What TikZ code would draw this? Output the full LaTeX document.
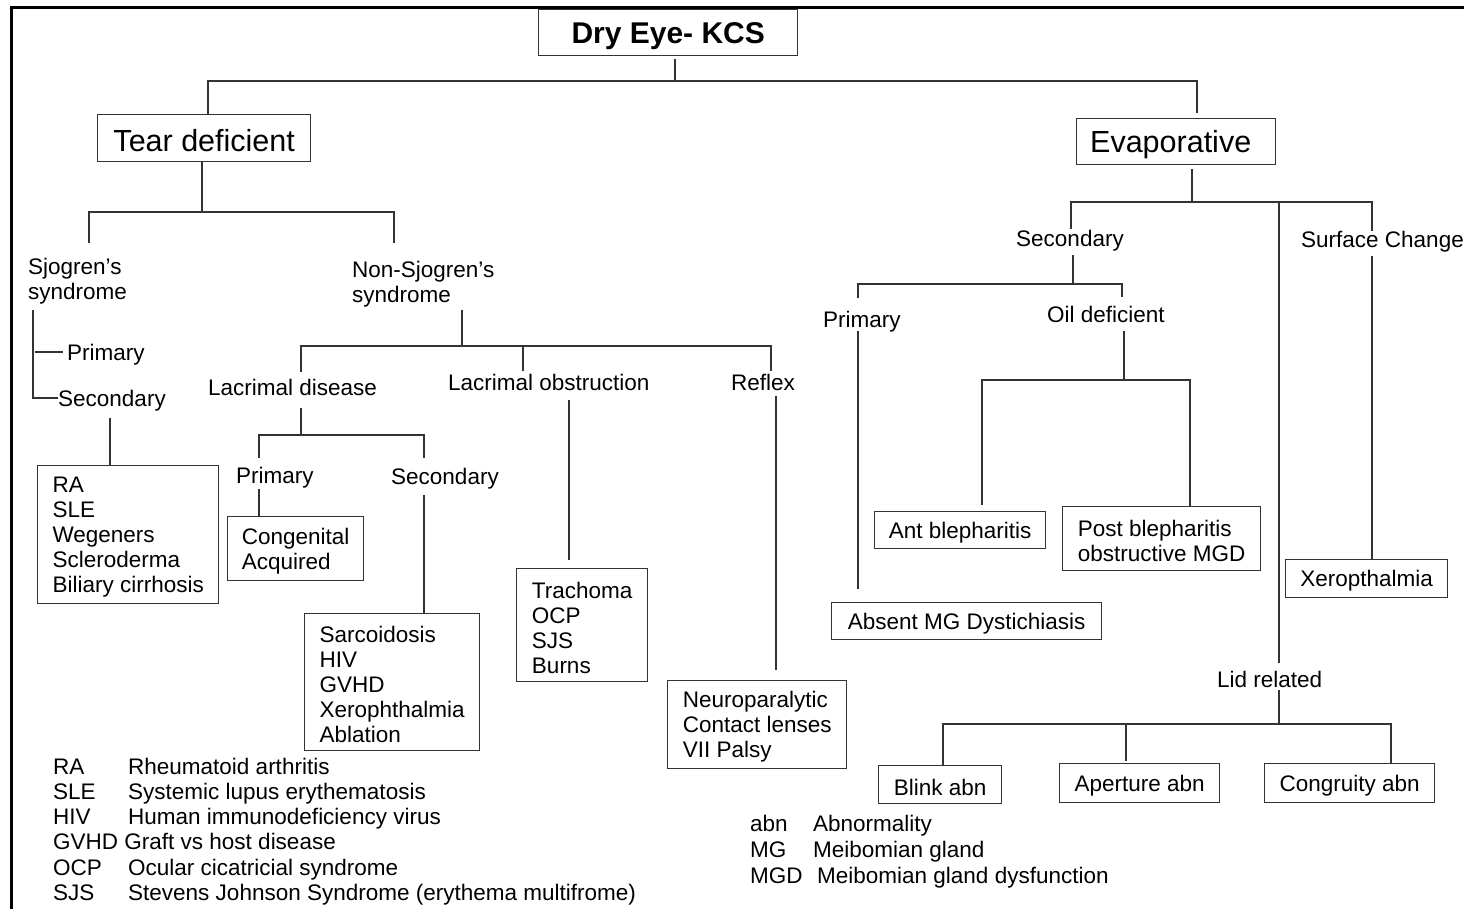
\documentclass[tikz,border=0pt]{standalone}
\usepackage{fontspec}
\setmainfont{Liberation Sans}
\newcommand{\bodyf}{\fontsize{22.5}{25}\selectfont}
\newcommand{\titlef}{\fontsize{30.5}{34}\selectfont}
\begin{document}
\begin{tikzpicture}[x=1pt,y=-1pt,
  ln/.style={line width=1.4pt, draw=black!80},
  box/.style={draw=black!80, line width=1.4pt, align=left, inner sep=0pt, font=\bodyf, anchor=north west},
  tbox/.style={draw=black!80, line width=1.4pt, inner sep=0pt, anchor=north west},
  lbl/.style={inner sep=0pt, font=\bodyf, anchor=base west},
  mlbl/.style={inner sep=0pt, font=\bodyf, anchor=west, align=left}]
\newcommand{\up}{\rule{0pt}{21pt}}
\newcommand{\upt}{\rule{0pt}{27pt}}
\useasboundingbox (0,0) rectangle (1464,909);
\fill[white] (0,0) rectangle (1464,909);
\draw[line width=3pt] (1464,8) -- (11.5,8) -- (11.5,909);

% title boxes
\node[tbox, minimum width=259pt, minimum height=46pt, font=\fontsize{30}{34}\selectfont\bfseries] (root) at (538,9) {\upt Dry Eye- KCS};
\node[tbox, minimum width=213pt, minimum height=47pt, font=\titlef] (tear) at (97,114) {\upt Tear deficient};
\node[tbox, minimum width=199pt, minimum height=46pt, font=\titlef] (evap) at (1076,118) {\upt Evaporative\hspace*{11pt}};

% left labels
\node[mlbl] (sjo) at (28,281) {Sjogren’s\\syndrome};
\node[mlbl] (nsjo) at (352,284) {Non-Sjogren’s\\syndrome};
\node[lbl] (prim1) at (67,360) {Primary};
\node[lbl] (sec1) at (58,406) {Secondary};
\node[lbl] (lacdis) at (208,395) {Lacrimal disease};
\node[lbl] (lacobs) at (448,390) {Lacrimal obstruction};
\node[lbl] (reflex) at (731,390) {Reflex};
\node[lbl] (prim2) at (236,483) {Primary};
\node[lbl] (sec2) at (391,484) {Secondary};

% right labels
\node[lbl] (esec) at (1016,247) {Secondary};
\node[lbl] (surf) at (1301,248) {Surface Change};
\node[lbl] (prim3) at (823,327) {Primary};
\node[lbl] (oil) at (1047,323) {Oil deficient};
\node[lbl] (lid) at (1217,687) {Lid related};

% boxes
\node[box, minimum width=181pt, minimum height=138pt] (ra) at (37,465) {\up RA\\SLE\\Wegeners\\Scleroderma\\Biliary cirrhosis};
\node[box, minimum width=136pt, minimum height=64pt] (cong) at (227,516) {\up Congenital\\Acquired};
\node[box, minimum width=175pt, minimum height=137pt] (sarc) at (304,613) {\up Sarcoidosis\\HIV\\GVHD\\Xerophthalmia\\Ablation};
\node[box, minimum width=131pt, minimum height=113pt] (trach) at (516,568) {\up Trachoma\\OCP\\SJS\\Burns};
\node[box, minimum width=179pt, minimum height=88pt] (neuro) at (667,680) {\up Neuroparalytic\\Contact lenses\\VII Palsy};
\node[box, minimum width=270pt, minimum height=37pt] (absent) at (831,602) {\up Absent MG Dystichiasis};
\node[box, minimum width=171pt, minimum height=37pt] (ant) at (874,511) {\up Ant blepharitis};
\node[box, minimum width=198pt, minimum height=64pt] (post) at (1062,506) {\up Post blepharitis\\obstructive MGD};
\node[box, minimum width=162pt, minimum height=38pt] (xero) at (1285,559) {\up Xeropthalmia};
\node[box, minimum width=123pt, minimum height=38pt] (blink) at (878,765) {\up Blink abn};
\node[box, minimum width=160pt, minimum height=39pt] (aper) at (1059,763) {\up Aperture abn};
\node[box, minimum width=170pt, minimum height=39pt] (congr) at (1264,763) {\up Congruity abn};

% legends
\node[anchor=north west, inner sep=0pt, font=\fontsize{22.5}{25.2}\selectfont] (leg1) at (53,756.4)
 {\begin{tabular}{@{}p{75pt}@{}l@{}}
 RA & Rheumatoid arthritis\\
 SLE & Systemic lupus erythematosis\\
 HIV & Human immunodeficiency virus\\
 \multicolumn{2}{@{}l@{}}{GVHD Graft vs host disease}\\
 OCP & Ocular cicatricial syndrome\\
 SJS & Stevens Johnson Syndrome (erythema multifrome)
 \end{tabular}};
\node[anchor=north west, inner sep=0pt, font=\fontsize{22.5}{26}\selectfont] (leg2) at (750,812.8)
 {\begin{tabular}{@{}p{63pt}@{}l@{}}
 abn & Abnormality\\
 MG & Meibomian gland\\
 MGD & \hspace{4pt}Meibomian gland dysfunction
 \end{tabular}};

% ---- connectors: root
\coordinate (r0) at (675,59); \coordinate (r1) at (675,81);
\coordinate (t0) at (208,81); \coordinate (e0) at (1197,81); \coordinate (e1) at (1197,113);
\draw[ln] (r0) -- (r1);
\draw[ln] (tear.north -| t0) -- (t0) -- (e0) -- (e1);

% tear deficient
\coordinate (td) at (202,212); \coordinate (s0) at (89,212); \coordinate (s1) at (89,243);
\coordinate (n0) at (394,212); \coordinate (n1) at (394,243);
\draw[ln] (tear.south -| td) -- (td);
\draw[ln] (s1) -- (s0) -- (n0) -- (n1);

% sjogren
\coordinate (sv0) at (33,310); \coordinate (sv1) at (33,398); \coordinate (sv2) at (58,398);
\coordinate (sp0) at (35,352); \coordinate (sp1) at (63,352);
\draw[ln] (sv0) -- (sv1) -- (sv2);
\draw[ln] (sp0) -- (sp1);
\coordinate (x0) at (110,418);
\draw[ln] (x0) -- (ra.north -| x0);

% non-sjogren
\coordinate (nv0) at (462,310); \coordinate (nv1) at (462,346);
\coordinate (l0) at (301,346); \coordinate (l1) at (301,372);
\coordinate (o0) at (523,346); \coordinate (o1) at (523,371);
\coordinate (f0) at (771,346); \coordinate (f1) at (771,371);
\draw[ln] (nv0) -- (nv1);
\draw[ln] (l1) -- (l0) -- (f0) -- (f1);
\draw[ln] (o0) -- (o1);

% lacrimal disease
\coordinate (ld0) at (301,408); \coordinate (ld1) at (301,435);
\coordinate (p0) at (259,435); \coordinate (p1) at (259,458);
\coordinate (q0) at (424,435); \coordinate (q1) at (424,458);
\draw[ln] (ld0) -- (ld1);
\draw[ln] (p1) -- (p0) -- (q0) -- (q1);
\coordinate (p2) at (259,489); \draw[ln] (p2) -- (cong.north -| p2);
\coordinate (q2) at (424,495); \draw[ln] (q2) -- (sarc.north -| q2);
\coordinate (ob0) at (569,400); \coordinate (ob1) at (569,560); \draw[ln] (ob0) -- (ob1);
\coordinate (rf0) at (776,396); \coordinate (rf1) at (776,670); \draw[ln] (rf0) -- (rf1);

% evaporative
\coordinate (ev0) at (1192,169); \coordinate (ev1) at (1192,202);
\coordinate (es0) at (1071,202); \coordinate (es1) at (1071,229);
\coordinate (lr0) at (1279,202); \coordinate (lr1) at (1279,663);
\coordinate (sc0) at (1372,202); \coordinate (sc1) at (1372,231); \coordinate (sc2) at (1372,256);
\draw[ln] (ev0) -- (ev1);
\draw[ln] (es1) -- (es0) -- (sc0) -- (sc1);
\draw[ln] (lr0) -- (lr1);
\draw[ln] (sc2) -- (xero.north -| sc2);

% evaporative secondary
\coordinate (es2) at (1073,255); \coordinate (es3) at (1073,284);
\coordinate (pr0) at (858,284); \coordinate (pr1) at (858,298);
\coordinate (od0) at (1122,284); \coordinate (od1) at (1122,297);
\draw[ln] (es2) -- (es3);
\draw[ln] (pr1) -- (pr0) -- (od0) -- (od1);
\coordinate (pr2) at (858,331); \coordinate (pr3) at (858,589); \draw[ln] (pr2) -- (pr3);
\coordinate (od2) at (1124,331); \coordinate (od3) at (1124,380);
\coordinate (a0) at (982,380); \coordinate (a1) at (982,505); \coordinate (b0) at (1190,380);
\draw[ln] (od2) -- (od3);
\draw[ln] (a1) -- (a0) -- (b0) -- (post.north -| b0);

% lid related
\coordinate (lr2) at (1279,690); \coordinate (lr3) at (1279,724);
\coordinate (k0) at (943,724); \coordinate (k1) at (1391,724);
\coordinate (m0) at (1126,724); \coordinate (m1) at (1126,761);
\draw[ln] (lr2) -- (lr3);
\draw[ln] (blink.north -| k0) -- (k0) -- (k1) -- (congr.north -| k1);
\draw[ln] (m0) -- (m1);
\end{tikzpicture}
\end{document}
